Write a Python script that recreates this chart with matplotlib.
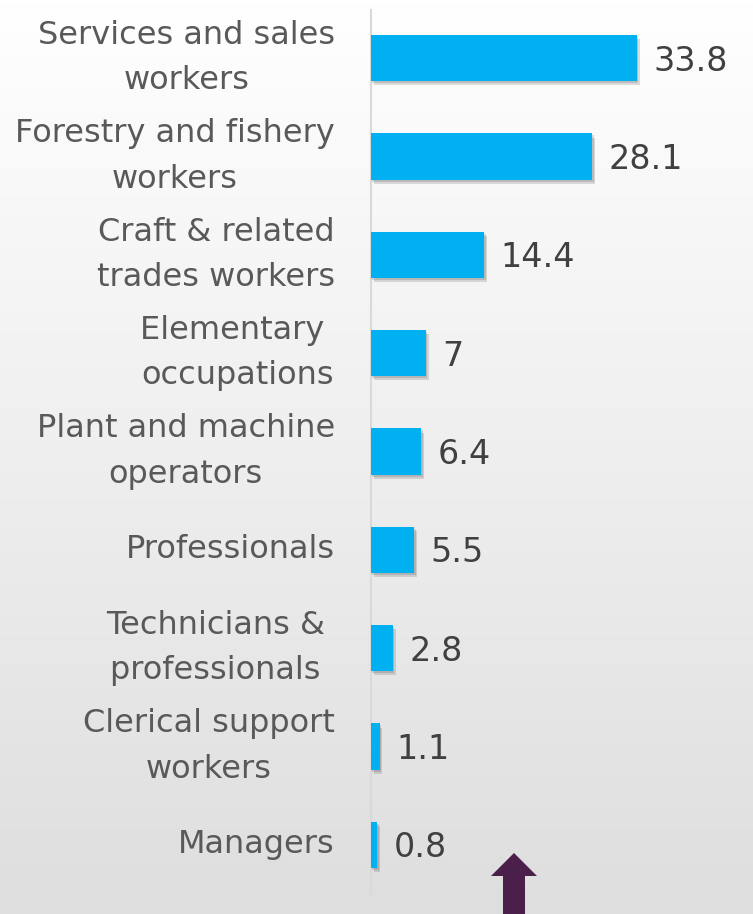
import numpy as np
import matplotlib
matplotlib.use("Agg")
import matplotlib.pyplot as plt
import matplotlib.patheffects as pe
from matplotlib.patches import Polygon

categories = [
    "Managers",
    "Clerical support\nworkers",
    "Technicians & \nprofessionals ",
    "Professionals",
    "Plant and machine\noperators",
    "Elementary \noccupations",
    "Craft & related\ntrades workers",
    "Forestry and fishery\nworkers",
    "Services and sales\nworkers",
]
values = [0.8, 1.1, 2.8, 5.5, 6.4, 7, 14.4, 28.1, 33.8]
value_labels = ["0.8", "1.1", "2.8", "5.5", "6.4", "7", "14.4", "28.1", "33.8"]

plt.rcParams["font.family"] = ["DejaVu Sans"]

W, H = 753, 914
fig = plt.figure(figsize=(W / 100, H / 100), dpi=100)

# soft vertical background gradient, white at the top to light grey at the bottom
bg = fig.add_axes([0, 0, 1, 1], zorder=-10)
grad = np.linspace(0, 1, 256).reshape(-1, 1)
bg.imshow(grad, aspect="auto", cmap=matplotlib.colors.LinearSegmentedColormap.from_list(
    "bg", ["#ffffff", "#dedede"]), extent=[0, 1, 0, 1], origin="upper")
bg.axis("off")

ax = fig.add_axes([371 / W, 1 - 893 / H, 1 - 371 / W, (893 - 10) / H])
ax.patch.set_alpha(0)

y = np.arange(len(categories))
bars = ax.barh(y, values, height=0.47, color="#00b0f0", zorder=3)
for b in bars:
    b.set_path_effects([pe.SimplePatchShadow(offset=(2, -3), shadow_rgbFace="#555555", alpha=0.2),
                        pe.SimplePatchShadow(offset=(1, -1.5), shadow_rgbFace="#555555", alpha=0.22),
                        pe.Normal()])

for yi, v, lab in zip(y, values, value_labels):
    ax.text(v + 2.1, yi - 0.03, lab, va="center", ha="left", fontsize=24, color="#404040")

ax.set_xlim(0, (W - 371) / 7.87)
ax.set_ylim(-0.49, 8.49)
ax.set_yticks(y)
ax.set_yticklabels(categories, fontsize=23, color="#595959", ha="right", va="center",
                   multialignment="center", linespacing=1.6)
ax.tick_params(axis="y", length=0, pad=26)
ax.set_xticks([])
for s in ["top", "right", "bottom"]:
    ax.spines[s].set_visible(False)
ax.spines["left"].set_color("#d9d9d9")
ax.spines["left"].set_linewidth(1.5)

# purple arrow pointing up at the bottom
tip, base, cx = 853, 876, 514
pts = [(cx, tip), (cx + 23, base), (cx + 11, base), (cx + 11, H + 5),
       (cx - 11, H + 5), (cx - 11, base), (cx - 23, base)]
arrow = Polygon([(px / W, 1 - py / H) for px, py in pts], closed=True,
                transform=fig.transFigure, facecolor="#4a1f4a", edgecolor="none")
fig.add_artist(arrow)

fig.savefig("out.png", dpi=100)
